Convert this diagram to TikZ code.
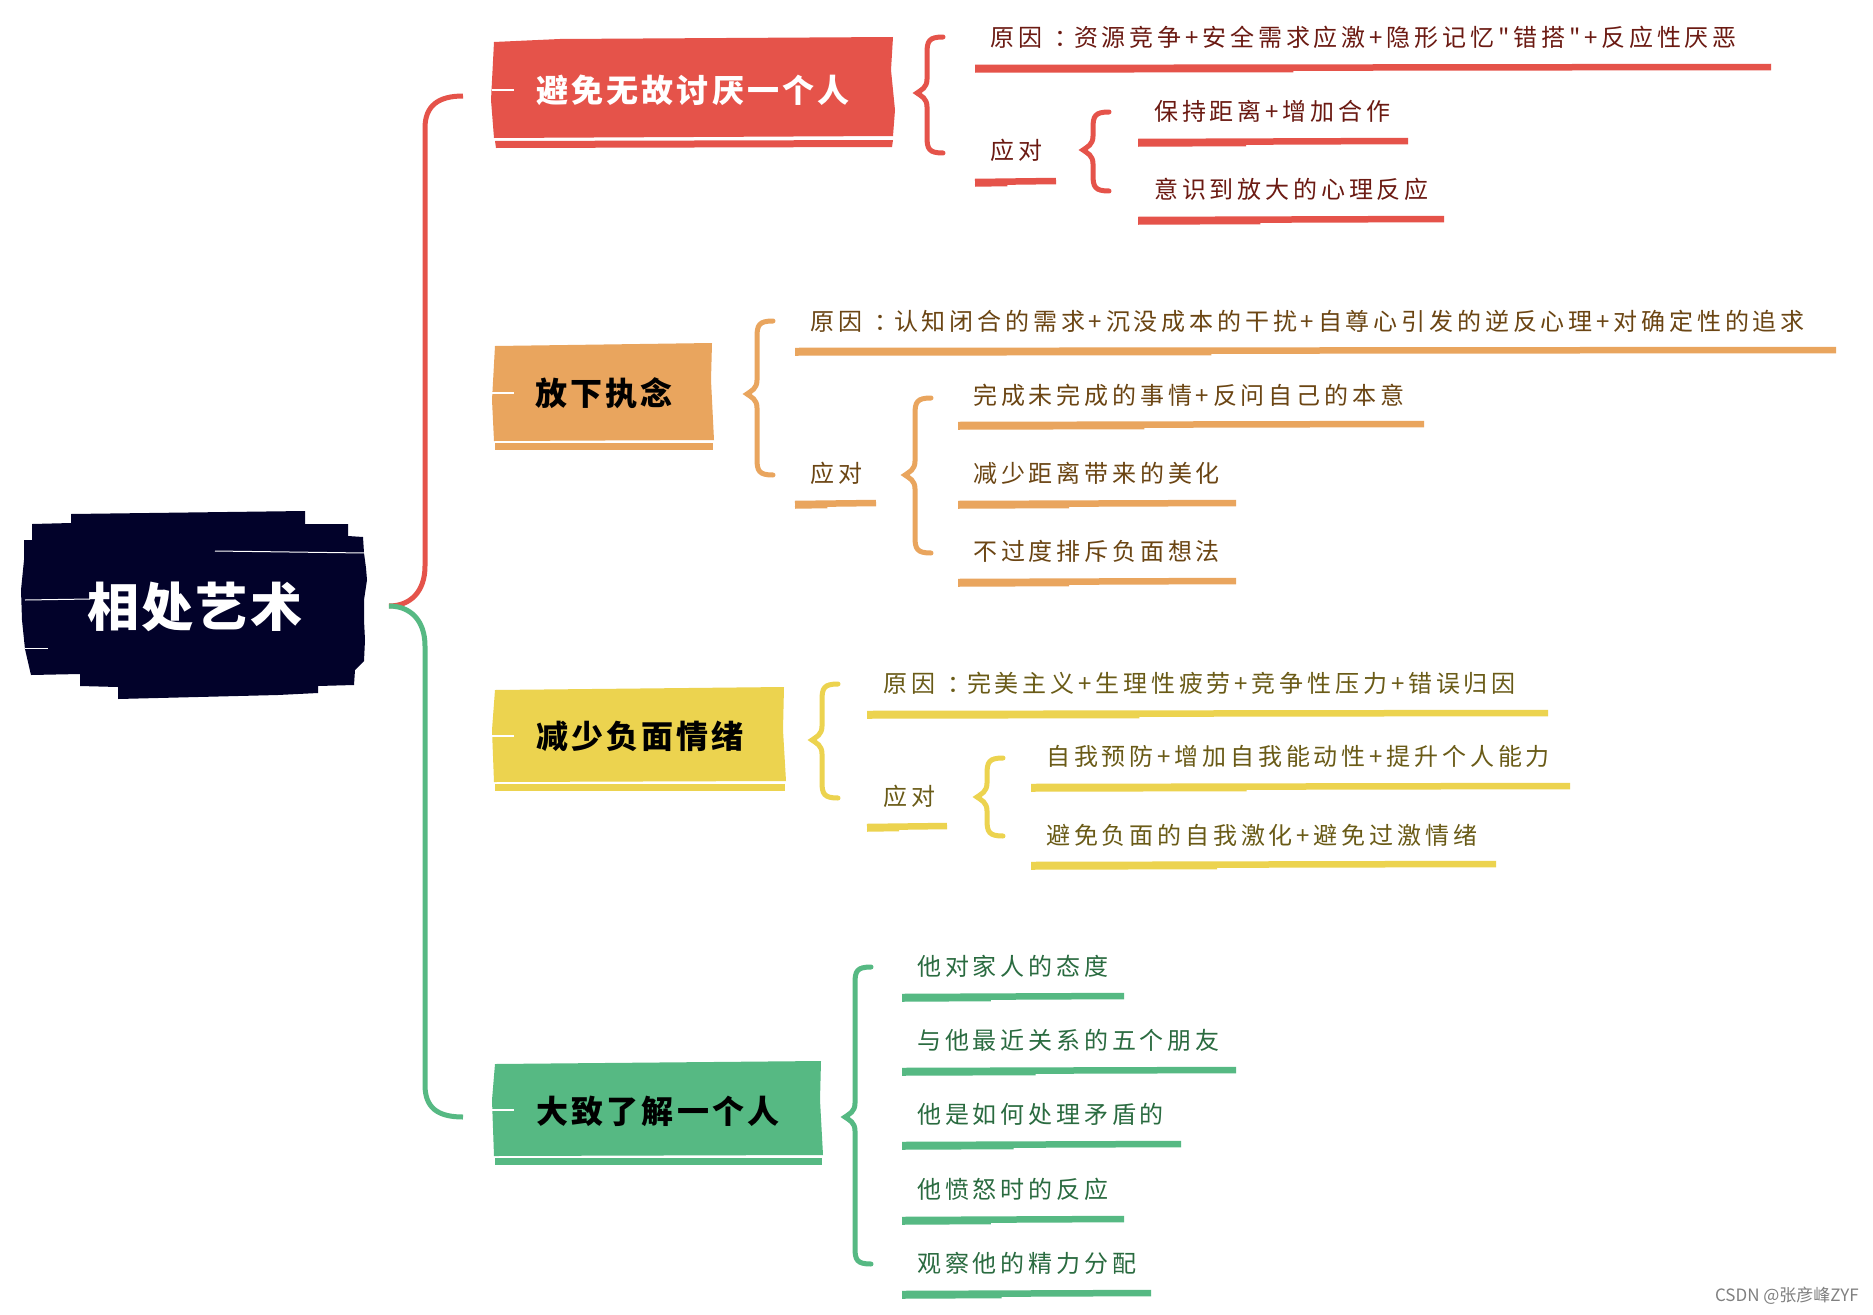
\documentclass[tikz,border=0pt]{standalone}
\usepackage{fontspec}
\newfontfamily\cjk[LetterSpace=16]{Noto Sans CJK SC}
\newfontfamily\cjkbox[LetterSpace=10]{Noto Sans CJK SC}
\newfontfamily\cjkroot[LetterSpace=4]{Noto Sans CJK SC}
\newfontfamily\cjkwm{Noto Sans CJK SC}
\definecolor{cNavy}{HTML}{02022A}
\definecolor{cR}{HTML}{E5534A}
\definecolor{cO}{HTML}{E9A55E}
\definecolor{cY}{HTML}{ECD34F}
\definecolor{cG}{HTML}{56B983}
\definecolor{tR}{HTML}{6B1A12}
\definecolor{tO}{HTML}{6B4513}
\definecolor{tY}{HTML}{6A5B17}
\definecolor{tG}{HTML}{2A6B40}
\newcommand{\cln}{\kern12pt：\kern-4pt}
\newcommand{\brushline}[4]{%
  \draw[uline,#1] (#2,#4) -- (#3,{#4-1});
  \draw[line width=2.5pt,#1] (#2,{#4+3.5}) -- ({#2+0.4*(#3-#2)},{#4+3});}
\newcommand{\curlyb}[5]{%
  \draw[brc,#1] ({#2+26},#3) .. controls ({#2+12},#3) and ({#2+10},{#3+4}) .. ({#2+10},{#3+16})
   -- ({#2+10},{#5-14}) .. controls ({#2+10},{#5-5}) and ({#2+4},{#5-3}) .. (#2,#5)
   .. controls ({#2+4},{#5+3}) and ({#2+10},{#5+5}) .. ({#2+10},{#5+14})
   -- ({#2+10},{#4-16}) .. controls ({#2+10},{#4-4}) and ({#2+12},#4) .. ({#2+26},#4);}
\begin{document}
\begin{tikzpicture}[x=1pt,y=-1pt,
  item/.style={anchor=west, inner sep=0pt, font={\cjk\fontsize{24pt}{28pt}\selectfont}},
  boxtxt/.style={inner sep=0pt, font={\cjkbox\bfseries\fontsize{32pt}{36pt}\selectfont}},
  roottxt/.style={inner sep=0pt, text=white, font={\cjkroot\bfseries\fontsize{52pt}{56pt}\selectfont}},
  uline/.style={line width=6.5pt},
  brc/.style={line width=5pt, line cap=round},
  conn/.style={line width=5pt}]
\fill[white] (0,0) rectangle (1873,1314);
\useasboundingbox (0,0) rectangle (1873,1314);

% central box
\fill[cNavy] (24,540) -- (32,540) -- (32,524) -- (71,523) -- (71,514) -- (305,511) -- (305,524)
  -- (348,524) -- (348,536) -- (363,537) -- (364,553) -- (366,568) -- (367,580) -- (364,600)
  -- (364,620) -- (365,640) -- (364,661) -- (355,670) -- (354,685) -- (318,686) -- (318,693)
  -- (278,695) -- (118,699) -- (118,687) -- (80,686) -- (80,674) -- (31,675) -- (25,649)
  -- (22,620) -- (21,590) -- (24,560) -- cycle;
\draw[white, line width=1pt] (215,551) -- (365,553);
\draw[white, line width=1pt] (25,600) -- (90,599);
\draw[white, line width=1pt] (25,648) -- (48,648);
\node[roottxt] (root) at (195,607) {相处艺术};
\coordinate (hub) at (389,606);

% branch boxes
\fill[cR] (494,42) -- (560,39) -- (893,37) -- (891,70) -- (895,110) -- (893,136) -- (494,138) -- (491,100) -- cycle;
\fill[cR] (495,141) -- (893,140) -- (892,147) -- (496,148) -- cycle;
\fill[cO] (495,346) -- (712,343) -- (711,380) -- (714,440) -- (494,441) -- (492,400) -- cycle;
\fill[cO] (495,443) -- (713,443) -- (713,450) -- (495,450) -- cycle;
\fill[cY] (495,690) -- (784,687) -- (783,730) -- (786,781) -- (494,782) -- (492,730) -- cycle;
\fill[cY] (495,784) -- (785,784) -- (785,791) -- (495,791) -- cycle;
\fill[cG] (495,1064) -- (821,1061) -- (820,1100) -- (823,1155) -- (494,1156) -- (492,1100) -- cycle;
\fill[cG] (495,1158) -- (822,1158) -- (822,1165) -- (495,1165) -- cycle;
\foreach \yy in {90,393,736,1110} \draw[white, line width=1.5pt] (492,\yy) -- (514,\yy);

\node[boxtxt, text=white] (b1) at (693,90) {避免无故讨厌一个人};
\node[boxtxt, text=black] (b2) at (604,393) {放下执念};
\node[boxtxt, text=black] (b3) at (640,736) {减少负面情绪};
\node[boxtxt, text=black] (b4) at (658,1111) {大致了解一个人};
\coordinate (c1) at (463,96);
\coordinate (c4) at (463,1117);

% main connectors
\draw[conn, cR] (hub) .. controls (410,606) and (425,592) .. (425,566) -- (425,128)
  .. controls (425,106) and (438,96) .. (c1);
\draw[conn, cG] (hub) .. controls (410,606) and (425,620) .. (425,646) -- (425,1085)
  .. controls (425,1108) and (438,1117) .. (c4);

% branch 1
\curlyb{cR}{917}{37}{153}{93}
\node[item, text=tR] (r1) at (990,37) {原因\cln 资源竞争+安全需求应激+隐形记忆"错搭"+反应性厌恶};
\brushline{cR}{975}{1771}{68}
\node[item, text=tR] (a1) at (990,150) {应对};
\brushline{cR}{975}{1056}{182}
\curlyb{cR}{1083}{112}{191}{150}
\node[item, text=tR] (s11) at (1154,111) {保持距离+增加合作};
\brushline{cR}{1138}{1408}{142}
\node[item, text=tR] (s12) at (1154,189) {意识到放大的心理反应};
\brushline{cR}{1138}{1444}{220}

% branch 2
\curlyb{cO}{747}{321}{475}{394}
\node[item, text=tO] (r2) at (810,321) {原因\cln 认知闭合的需求+沉没成本的干扰+自尊心引发的逆反心理+对确定性的追求};
\brushline{cO}{795}{1836}{351}
\node[item, text=tO] (a2) at (810,473) {应对};
\brushline{cO}{795}{876}{504}
\curlyb{cO}{905}{398}{553}{475}
\node[item, text=tO] (s21) at (973,395) {完成未完成的事情+反问自己的本意};
\brushline{cO}{958}{1424}{425}
\node[item, text=tO] (s22) at (973,473) {减少距离带来的美化};
\brushline{cO}{958}{1236}{504}
\node[item, text=tO] (s23) at (973,551) {不过度排斥负面想法};
\brushline{cO}{958}{1236}{582}

% branch 3
\curlyb{cY}{812}{684}{798}{740}
\node[item, text=tY] (r3) at (883,683) {原因\cln 完美主义+生理性疲劳+竞争性压力+错误归因};
\brushline{cY}{867}{1548}{714}
\node[item, text=tY] (a3) at (883,796) {应对};
\brushline{cY}{867}{947}{827}
\curlyb{cY}{977}{758}{836}{797}
\node[item, text=tY] (s31) at (1046,756) {自我预防+增加自我能动性+提升个人能力};
\brushline{cY}{1031}{1570}{787}
\node[item, text=tY] (s32) at (1046,835) {避免负面的自我激化+避免过激情绪};
\brushline{cY}{1031}{1496}{865}

% branch 4
\curlyb{cG}{845}{967}{1264}{1117}
\node[item, text=tG] (g1) at (917,966) {他对家人的态度};
\brushline{cG}{902}{1124}{997}
\node[item, text=tG] (g2) at (917,1040) {与他最近关系的五个朋友};
\brushline{cG}{902}{1236}{1071}
\node[item, text=tG] (g3) at (917,1114) {他是如何处理矛盾的};
\brushline{cG}{902}{1181}{1145}
\node[item, text=tG] (g4) at (917,1189) {他愤怒时的反应};
\brushline{cG}{902}{1124}{1220}
\node[item, text=tG] (g5) at (917,1263) {观察他的精力分配};
\brushline{cG}{902}{1151}{1294}

\node[anchor=east, inner sep=0pt, text=gray, font={\cjkwm\fontsize{17pt}{20pt}\selectfont}] (wm) at (1859,1296) {CSDN @张彦峰ZYF};
\end{tikzpicture}
\end{document}
